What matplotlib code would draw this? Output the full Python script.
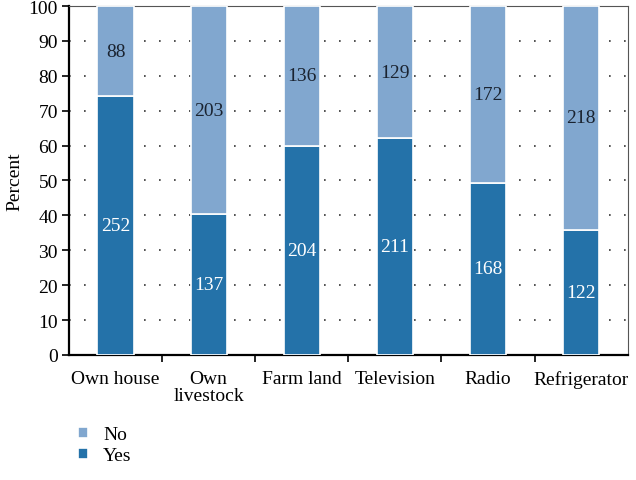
import matplotlib
matplotlib.use("Agg")
import matplotlib.pyplot as plt
import numpy as np

categories = ["Own house", "Own\nlivestock", "Farm land", "Television", "Radio", "Refrigerator"]
yes_counts = [252, 137, 204, 211, 168, 122]
no_counts = [88, 203, 136, 129, 172, 218]

yes_color = "#2472a9"
no_color = "#81a7cf"

plt.rcParams["font.family"] = ["Liberation Serif", "DejaVu Serif"]

yes = np.array(yes_counts, dtype=float)
no = np.array(no_counts, dtype=float)
total = yes + no
yes_pct = yes / total * 100
no_pct = no / total * 100

fig = plt.figure(figsize=(6.36, 4.81), dpi=100)
ax = fig.add_axes([0.1085, 0.26, 0.8785, 0.7254])

x = np.arange(len(categories))
w = 0.39
b1 = ax.bar(x, yes_pct, w, color=yes_color, edgecolor="white", linewidth=1.2, label="Yes", zorder=3)
b2 = ax.bar(x, no_pct, w, bottom=yes_pct, color=no_color, edgecolor="white", linewidth=1.2, label="No", zorder=3)

for i in range(len(categories)):
    ax.text(x[i], yes_pct[i] / 2, str(yes_counts[i]), ha="center", va="center",
            color="white", fontsize=14, zorder=4)
    ax.text(x[i], yes_pct[i] + no_pct[i] / 2, str(no_counts[i]), ha="center", va="center",
            color="#1a2330", fontsize=14, zorder=4)

ax.set_xlim(-0.5, len(categories) - 0.5)
ax.set_ylim(0, 100)
ax.set_yticks(np.arange(0, 101, 10))
ax.set_xticks(x)
ax.set_xticklabels(categories, fontsize=14, linespacing=1.0)
ax.tick_params(axis="x", length=0, pad=11)
ax.set_xticks(np.arange(0.5, len(categories) - 0.5, 1), minor=True)
ax.tick_params(axis="x", which="minor", length=5, width=1.2, direction="out")
ax.tick_params(axis="y", labelsize=14, length=5, width=1.2, direction="out", pad=3)
ax.set_ylabel("Percent", fontsize=14, labelpad=4)

for yv in range(10, 100, 10):
    ax.axhline(yv, color="#333333", linewidth=1.2, linestyle=(0, (1, 8)), zorder=1)

ax.spines["left"].set_linewidth(1.6)
ax.spines["bottom"].set_linewidth(1.6)
ax.spines["top"].set_color("#555555")
ax.spines["right"].set_color("#555555")
ax.spines["top"].set_linewidth(0.8)
ax.spines["right"].set_linewidth(0.8)

handles = [b2, b1]
fig.legend(handles, ["No", "Yes"], loc="upper left", bbox_to_anchor=(0.095, 0.148),
           frameon=False, fontsize=14, handlelength=0.5, handleheight=0.5,
           handletextpad=0.8, labelspacing=0.2)

fig.savefig("out.png", dpi=100)
